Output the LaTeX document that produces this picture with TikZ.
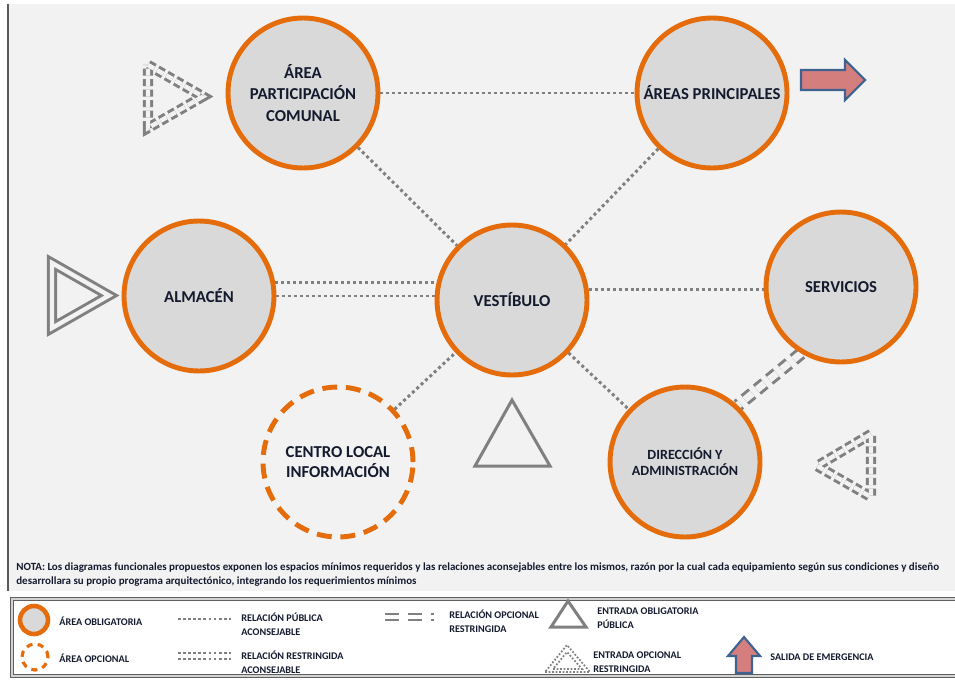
\documentclass[tikz,border=0pt]{standalone}
\usepackage{fontspec}
\setmainfont{Carlito}
\usepackage{xcolor}
\usepackage{tikz}
\usetikzlibrary{positioning, calc, backgrounds}

\definecolor{naranja}{HTML}{E46C0A}
\definecolor{relleno}{HTML}{D9D9D9}
\definecolor{fondo}{HTML}{F2F2F2}
\definecolor{linea}{HTML}{808080}
\definecolor{salida}{HTML}{D47E7E}
\definecolor{borde}{HTML}{3F6391}
\definecolor{texto}{HTML}{141A2E}

\begin{document}
\begin{tikzpicture}[x=0.02cm, y=-0.02cm,
    % Styles
    area/.style={circle, draw=naranja, line width=2.8pt, fill=relleno, minimum size=3cm, inner sep=0pt, align=center, text=texto, font=\fontsize{9.5}{12}\selectfont\bfseries},
    opcional/.style={area, fill=none, dash pattern=on 8.5pt off 5pt},
    publica/.style={draw=linea, line width=1.7pt, dash pattern=on 1.7pt off 1.7pt},
    leypub/.style={draw=linea, line width=1.6pt, dash pattern=on 1.6pt off 1.3pt},
    opcrestr/.style={draw=linea, line width=1.7pt, double=fondo, double distance=4pt, dash pattern=on 5.5pt off 3.5pt},
    entrada/.style={draw=linea, line width=1.7pt, line join=miter},
    entradaopc/.style={entrada, double=fondo, double distance=2.5pt, dash pattern=on 4pt off 2pt},
    salidaem/.style={draw=borde, line width=1.2pt, fill=salida, line join=miter},
    leyenda/.style={font=\fontsize{5.8}{8}\selectfont\bfseries, text=texto, anchor=west, align=left, inner sep=0pt},
]
\useasboundingbox (0,0) rectangle (955,679);

% ===== AREAS =====
\node[area] (apc) at (303,93) {ÁREA\\PARTICIPACIÓN\\COMUNAL};
\node[area] (ap) at (712,93) {ÁREAS PRINCIPALES};
\node[area] (alm) at (199,296) {ALMACÉN};
\node[area] (vest) at (512,300) {VESTÍBULO};
\node[area] (serv) at (841,287) {SERVICIOS};
\node[area, font=\fontsize{8}{9}\selectfont\bfseries] (dir) at (685,462) {DIRECCIÓN Y\\ADMINISTRACIÓN};
\node[opcional, font=\fontsize{9.5}{11.3}\selectfont\bfseries] (cli) at (338,462) {CENTRO LOCAL\\INFORMACIÓN};

% ===== RELATIONS =====
\begin{scope}[on background layer]
\fill[fondo] (9,4) rectangle (955,591);
\draw[gray!70!black, line width=1.1pt] (8,4) -- (8,591);

\draw[publica] (apc) -- (ap);
\draw[publica] (apc) -- (vest);
\draw[publica] (ap) -- (vest);
\draw[publica] (vest.8) -- (vest.8 -| serv.west);
\draw[publica] (vest) -- (dir);
\draw[publica] (cli) -- (vest);
% restricted: two rows
\draw[publica] (alm.10) -- (alm.10 -| vest.west);
\draw[publica] (alm.east) -- (alm.east -| vest.west);
% optional restricted
\draw[opcrestr] (serv.239) -- (dir.47);
\end{scope}

% ===== ENTRANCES / EXIT =====
\draw[entradaopc] (148,65) -- (203,96.5) -- (148,128) -- cycle;
\draw[entrada, double=fondo, double distance=2.5pt] (52,263) -- (109,295.5) -- (52,328) -- cycle;
\draw[entrada] (475,466) -- (550,466) -- (512,400) -- cycle;
\draw[entradaopc] (871,434) -- (817,466) -- (871,497) -- cycle;
\draw[salidaem] (801,70) -- (845,70) -- (845,60) -- (865,80) -- (845,100) -- (845,90) -- (801,90) -- cycle;

% ===== NOTE =====
\node[font=\fontsize{6.25}{8}\selectfont\bfseries, text=texto, anchor=north west, align=left, inner sep=0pt] (nota) at (16,562) {NOTA: Los diagramas funcionales propuestos exponen los espacios mínimos requeridos y las relaciones aconsejables entre los mismos, razón por la cual cada equipamiento según sus condiciones y diseño\\desarrollara su propio programa arquitectónico, integrando los requerimientos mínimos};

% ===== LEGEND =====
\draw[gray!75!black, line width=0.9pt, double=gray!35, double distance=0.9pt, fill=white] (12,599) rectangle (965,676);

\node[area, minimum size=0.56cm, line width=2.6pt] (lobl) at (34,620) {};
\node[leyenda] (tobl) at (59,621) {ÁREA OBLIGATORIA};
\node[opcional, minimum size=0.52cm, line width=1.8pt, dash pattern=on 3.5pt off 3pt] (lopc) at (35,657) {};
\node[leyenda] (topc) at (59,658) {ÁREA OPCIONAL};

\coordinate (lpa) at (178,619);
\coordinate (lpb) at (231,619);
\draw[leypub] (lpa) -- (lpb);
\node[leyenda] (tpub) at (241,624) {RELACIÓN PÚBLICA\\ACONSEJABLE};

\coordinate (lra) at (178,653);
\coordinate (lrb) at (231,653);
\draw[leypub] (lra) -- (lrb);
\draw[leypub] ([yshift=-0.12cm]lra) -- ([yshift=-0.12cm]lrb);
\node[leyenda] (tres) at (241,662) {RELACIÓN RESTRINGIDA\\ACONSEJABLE};

\coordinate (loa) at (385,617);
\coordinate (lob) at (434,617);
\draw[opcrestr, line width=1.5pt, double=white, double distance=2pt, dash pattern=on 7.9pt off 5.1pt] (loa) -- (lob);
\node[leyenda] (tor) at (449,621) {RELACIÓN OPCIONAL\\RESTRINGIDA};

\draw[entrada] (551,627) -- (586,627) -- (568,601) -- cycle;
\node[leyenda] (teo) at (597,618) {ENTRADA OBLIGATORIA\\PÚBLICA};

\draw[draw=linea, line width=1pt, dash pattern=on 1pt off 1pt] (545,672) -- (590,672) -- (567,645) -- cycle;
\draw[draw=linea, line width=1pt, dash pattern=on 1pt off 1pt] (553,669) -- (582,669) -- (567,652) -- cycle;
\node[leyenda] (teopc) at (593,662) {ENTRADA OPCIONAL\\RESTRINGIDA};

\draw[salidaem] (736,673) -- (736,656) -- (728,656) -- (744,637) -- (760,656) -- (752,656) -- (752,673) -- cycle;
\node[leyenda] (tsal) at (770,657) {SALIDA DE EMERGENCIA};

\end{tikzpicture}
\end{document}
